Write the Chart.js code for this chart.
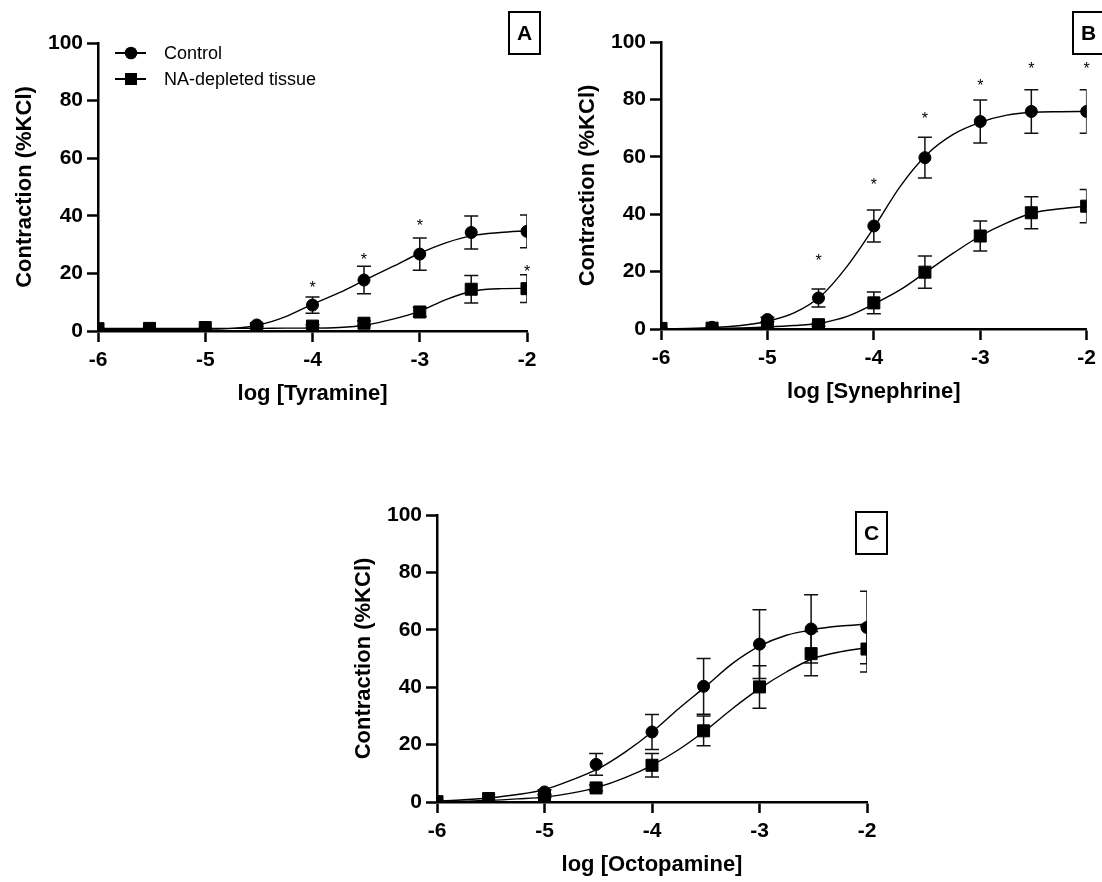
<!DOCTYPE html>
<html>
<head>
<meta charset="utf-8">
<script src="https://cdn.jsdelivr.net/npm/chart.js@4.4.1/dist/chart.umd.min.js"></script>
<style>
  body { margin: 0; background: #fff; }
  #wrap { position: relative; width: 1102px; height: 882px; overflow: hidden; }
  canvas { position: absolute; }
</style>
</head>
<body>
<div id="wrap">
  <canvas id="chartA" width="560" height="411" style="left:0;top:0"></canvas>
  <canvas id="chartB" width="542" height="409" style="left:560px;top:0"></canvas>
  <canvas id="chartC" width="560" height="402" style="left:340px;top:480px"></canvas>
</div>
<script>
// doses (log M) of the measured points and of the fitted curve readings
const doseX = [-6, -5.52, -5, -4.52, -4, -3.52, -3, -2.52, -2];
const fitX = [-6, -5.75, -5.5, -5.25, -5, -4.75, -4.5, -4.25, -4, -3.75, -3.5, -3.25, -3, -2.75, -2.5, -2.25, -2];
const xTicks = [-6, -5, -4, -3, -2];
const yTicks = [0, 20, 40, 60, 80, 100];

// A - Tyramine
const tyrControl = [0.6, 0.7, 0.8, 2.1, 9.0, 17.7, 26.7, 34.2, 34.6];
const tyrControlErr = [0, 0, 0, 0.5, 2.8, 4.8, 5.6, 5.7, 5.7];
const tyrDepleted = [0.8, 0.9, 1.2, 1.0, 1.7, 2.7, 6.6, 14.5, 14.7];
const tyrDepletedErr = [0, 0, 0, 0, 0.5, 0.8, 1.6, 4.8, 4.8];
const tyrControlFit = [0.5, 0.5, 0.5, 0.5, 0.6, 0.9, 2.1, 5.0, 9.3, 13.3, 17.9, 22.4, 27.0, 30.7, 33.2, 34.2, 34.8];
const tyrDepletedFit = [0.9, 0.9, 0.9, 0.9, 0.9, 0.9, 0.9, 1.0, 1.0, 1.2, 2.1, 4.1, 6.9, 11.0, 13.9, 14.7, 14.8];
const tyrStarX = [-4, -3.52, -3, -2];
const tyrStarY = [16.6, 26.1, 37.9, 22.0];

// B - Synephrine
const synControl = [0.3, 0.6, 3.3, 10.8, 35.9, 59.7, 72.3, 75.8, 75.8];
const synControlErr = [0, 0, 0.8, 3.1, 5.6, 7.1, 7.5, 7.6, 7.6];
const synDepleted = [0.2, 0.3, 0.7, 1.5, 9.1, 19.8, 32.4, 40.5, 42.8];
const synDepletedErr = [0, 0, 0, 0.5, 3.8, 5.6, 5.2, 5.6, 5.8];
const synControlFit = [0.1, 0.2, 0.5, 1.2, 2.7, 5.6, 11.4, 21.9, 35.3, 49.8, 60.9, 67.9, 72.0, 74.5, 75.5, 75.7, 75.8];
const synDepletedFit = [0, 0.1, 0.2, 0.4, 0.7, 1.2, 2.1, 4.4, 8.7, 13.7, 20.1, 26.5, 32.4, 37.0, 40.5, 41.9, 42.8];
const synStarX = [-4.52, -4, -3.52, -3, -2.52, -2];
const synStarY = [25.4, 51.9, 74.9, 86.2, 92.0, 92.0];

// C - Octopamine
const octControl = [0.3, 1.0, 3.5, 13.1, 24.4, 40.3, 55.0, 60.3, 60.8];
const octControlErr = [0, 0, 0.8, 3.8, 6.1, 9.7, 12.0, 11.9, 12.6];
const octDepleted = [0.1, 1.2, 2.0, 4.9, 12.8, 24.8, 40.1, 51.7, 53.3];
const octDepletedErr = [0, 0, 0.4, 1.0, 4.1, 5.2, 7.4, 7.7, 8.0];
const octControlFit = [0.3, 0.8, 1.5, 2.6, 4.3, 7.6, 11.6, 17.4, 24.4, 32.6, 40.3, 48.3, 54.3, 58.1, 60.1, 61.3, 62.0];
const octDepletedFit = [0, 0.3, 0.6, 1.1, 1.7, 3.1, 5.2, 8.5, 12.8, 18.3, 25.0, 32.6, 39.5, 45.3, 50.0, 52.3, 53.8];
const octStarX = [];
const octStarY = [];

const seriesNames = ['Control', 'NA-depleted tissue'];

const FONT = "'Liberation Sans', Arial, sans-serif";
Chart.defaults.font.family = FONT;
Chart.defaults.color = '#000';

function pts(xs, ys) {
  return xs.map((x, i) => ({ x: x, y: ys[i] }));
}

function makePanel(id, p) {
  const deco = {
    id: 'deco',
    beforeDatasetsDraw(chart) {
      const { ctx, chartArea: a, scales } = chart;
      ctx.save();
      ctx.beginPath();
      ctx.rect(a.left, a.top, a.right - a.left, a.bottom - a.top);
      ctx.clip();
      ctx.strokeStyle = '#111';
      ctx.lineWidth = 1.5;
      [[p.control, p.controlErr], [p.depleted, p.depletedErr]].forEach(([mean, err]) => {
        doseX.forEach((x, i) => {
          if (!err[i]) return;
          const px = scales.x.getPixelForValue(x);
          const top = scales.y.getPixelForValue(mean[i] + err[i]);
          const bot = scales.y.getPixelForValue(mean[i] - err[i]);
          ctx.beginPath();
          ctx.moveTo(px, top); ctx.lineTo(px, bot);
          ctx.moveTo(px - 7, top); ctx.lineTo(px + 7, top);
          ctx.moveTo(px - 7, bot); ctx.lineTo(px + 7, bot);
          ctx.stroke();
        });
      });
      ctx.restore();
    },
    afterDatasetsDraw(chart) {
      const { ctx, chartArea: a, scales } = chart;
      ctx.save();
      // significance stars
      ctx.fillStyle = '#000';
      ctx.font = '16px ' + FONT;
      ctx.textAlign = 'center';
      ctx.textBaseline = 'alphabetic';
      p.starX.forEach((x, i) => {
        ctx.fillText('*', scales.x.getPixelForValue(x), scales.y.getPixelForValue(p.starY[i]) + 9.5);
      });
      // panel letter box
      ctx.lineWidth = 2;
      ctx.strokeStyle = '#000';
      ctx.strokeRect(p.box[0], p.box[1], 31, 42);
      ctx.font = 'bold 21px ' + FONT;
      ctx.textBaseline = 'middle';
      ctx.fillText(p.letter, p.box[0] + 15.5, p.box[1] + 22);
      // legend
      if (p.legend) {
        ctx.font = '18px ' + FONT;
        ctx.textAlign = 'left';
        seriesNames.forEach((name, i) => {
          const y = a.top + 10 + i * 26;
          const lx = a.left + 17;
          ctx.lineWidth = 2;
          ctx.beginPath();
          ctx.moveTo(lx, y); ctx.lineTo(lx + 31, y);
          ctx.stroke();
          ctx.beginPath();
          if (i === 0) ctx.arc(lx + 16, y, 6.3, 0, Math.PI * 2);
          else ctx.rect(lx + 10, y - 6, 12, 12);
          ctx.fill();
          ctx.fillText(name, lx + 49, y + 1);
        });
      }
      ctx.restore();
    }
  };

  return new Chart(document.getElementById(id), {
    type: 'line',
    data: {
      datasets: [
        { label: seriesNames[1], data: pts(doseX, p.depleted), showLine: false, pointStyle: 'rect',
          pointRadius: 8.5, backgroundColor: '#000', borderColor: '#000', borderWidth: 1, clip: 0, order: 0 },
        { label: seriesNames[0], data: pts(doseX, p.control), showLine: false, pointStyle: 'circle',
          pointRadius: 6, backgroundColor: '#000', borderColor: '#000', borderWidth: 1, clip: 0, order: 1 },
        { label: 'fit control', data: pts(fitX, p.controlFit), pointRadius: 0, borderColor: '#000',
          borderWidth: 1.4, cubicInterpolationMode: 'monotone', clip: 0, order: 2 },
        { label: 'fit depleted', data: pts(fitX, p.depletedFit), pointRadius: 0, borderColor: '#000',
          borderWidth: 1.4, cubicInterpolationMode: 'monotone', clip: 0, order: 3 }
      ]
    },
    options: {
      responsive: false,
      animation: false,
      devicePixelRatio: 1,
      layout: { padding: { left: 0, top: p.top, right: p.right, bottom: 0 } },
      plugins: { legend: { display: false }, tooltip: { enabled: false } },
      scales: {
        x: {
          type: 'linear', min: -6, max: -2,
          afterBuildTicks(s) { s.ticks = xTicks.map(v => ({ value: v })); },
          ticks: { color: '#000', autoSkip: false, maxRotation: 0, padding: 6,
                   font: { size: 21, weight: 'bold' } },
          grid: { drawOnChartArea: false, drawTicks: true, tickLength: 11, tickColor: '#000', tickWidth: 2.5 },
          border: { color: '#000', width: 2.5 },
          title: { display: true, text: p.xTitle, color: '#000', padding: { top: 0, bottom: 4 },
                   font: { size: 22, weight: 'bold' } },
          afterFit(s) { s.height = 80; }
        },
        y: {
          min: 0, max: 100,
          afterBuildTicks(s) { s.ticks = yTicks.map(v => ({ value: v })); },
          ticks: { color: '#000', padding: 4, font: { size: 21, weight: 'bold' } },
          grid: { drawOnChartArea: false, drawTicks: true, tickLength: 11, tickColor: '#000', tickWidth: 2.5 },
          border: { color: '#000', width: 2.5 },
          title: { display: true, text: 'Contraction (%KCl)', color: '#000', padding: { top: p.yTitlePad, bottom: 0 },
                   font: { size: 22, weight: 'bold' } },
          afterFit(s) { s.width = p.left; }
        }
      }
    },
    plugins: [deco]
  });
}

makePanel('chartA', {
  control: tyrControl, controlErr: tyrControlErr, depleted: tyrDepleted, depletedErr: tyrDepletedErr,
  controlFit: tyrControlFit, depletedFit: tyrDepletedFit, starX: tyrStarX, starY: tyrStarY,
  xTitle: 'log [Tyramine]', letter: 'A', box: [509, 12], legend: true,
  left: 98, top: 43, right: 33, yTitlePad: 12
});
makePanel('chartB', {
  control: synControl, controlErr: synControlErr, depleted: synDepleted, depletedErr: synDepletedErr,
  controlFit: synControlFit, depletedFit: synDepletedFit, starX: synStarX, starY: synStarY,
  xTitle: 'log [Synephrine]', letter: 'B', box: [513, 12], legend: false,
  left: 101, top: 42, right: 14, yTitlePad: 15
});
makePanel('chartC', {
  control: octControl, controlErr: octControlErr, depleted: octDepleted, depletedErr: octDepletedErr,
  controlFit: octControlFit, depletedFit: octDepletedFit, starX: octStarX, starY: octStarY,
  xTitle: 'log [Octopamine]', letter: 'C', box: [516, 32], legend: false,
  left: 97, top: 35, right: 33, yTitlePad: 11
});
</script>
</body>
</html>
